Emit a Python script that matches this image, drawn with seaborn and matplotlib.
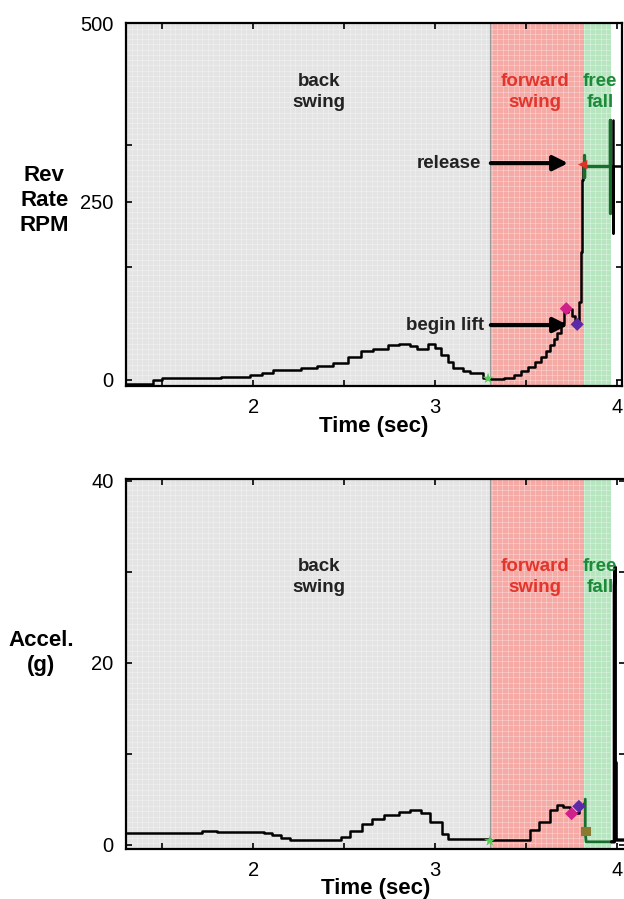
import numpy as np
import matplotlib
matplotlib.use('Agg')
import matplotlib.pyplot as plt
import seaborn as sns
import pandas as pd

# --- data ---
# bowling swing phases (start/end times, sec)
phase_names = ['back\nswing', 'forward\nswing', 'free\nfall']
phase_edges = [1.25, 3.30, 3.82, 3.965]
phase_colors = ['#e4e4e4', '#f6aaa6', '#b6e5c0']
phase_text_colors = ['#222222', '#e2352c', '#1c8a38']

# rev rate (RPM)
rev_time = [1.30, 1.45, 1.50, 1.65, 1.82, 1.98, 2.05, 2.11, 2.26, 2.35, 2.44, 2.52,
            2.59, 2.66, 2.74, 2.80, 2.86, 2.90, 2.96, 3.00, 3.03, 3.07, 3.10, 3.15,
            3.19, 3.26, 3.30, 3.38, 3.43, 3.47, 3.51, 3.55, 3.58, 3.61, 3.63, 3.65,
            3.67, 3.69, 3.71, 3.73, 3.75, 3.77, 3.79, 3.80, 3.805, 3.81]
rev_rpm = [-6, 0, 3, 3, 4, 7, 10, 14, 17, 19, 24, 32,
           40, 44, 49, 50, 48, 43, 50, 45, 35, 25, 17, 13,
           10, 3, 1, 3, 7, 12, 18, 25, 32, 40, 49, 58,
           66, 80, 95, 100, 90, 80, 110, 180, 280, 300]
rev_fall_time = [3.82, 3.82, 3.82, 3.96, 3.96, 3.96]
rev_fall_rpm = [315, 285, 300, 300, 364, 234]
rev_after_time = [3.975, 3.975, 3.975, 4.03]
rev_after_rpm = [364, 206, 300, 300]

# acceleration (g)
acc_time = [1.30, 1.50, 1.72, 1.80, 2.06, 2.10, 2.15, 2.20, 2.44, 2.48, 2.53, 2.60,
            2.65, 2.72, 2.80, 2.86, 2.92, 2.97, 3.04, 3.07, 3.30, 3.47, 3.52, 3.57,
            3.63, 3.67, 3.70, 3.74, 3.79, 3.82]
acc_g = [1.3, 1.3, 1.5, 1.4, 1.3, 1.0, 0.7, 0.5, 0.5, 0.8, 1.5, 2.3,
         2.8, 3.2, 3.6, 3.8, 3.5, 2.5, 1.2, 0.6, 0.5, 0.5, 1.6, 2.5,
         3.8, 4.4, 4.1, 3.5, 4.2, 4.6]
acc_fall_time = [3.825, 3.825, 3.83, 3.97]
acc_fall_g = [5.0, 1.3, 0.3, 0.3]
acc_after_time = [3.97, 3.985, 3.985, 3.99, 3.99, 3.995, 3.995, 4.0, 4.045]
acc_after_g = [0.3, 0.3, 28.5, 30.5, 9.0, 9.0, 0.5, 0.5, 0.5]

# event markers
rev_event_time = [3.29, 3.72, 3.78, 3.81]
rev_event_val = [2, 100, 78, 302]
acc_event_time = [3.30, 3.75, 3.79, 3.83]
acc_event_val = [0.4, 3.4, 4.2, 1.4]
event_colors = ['#55cc55', '#d0208a', '#5a2aa8', '#e0302a']
event_markers = ['*', 'D', 'D', '<']

sns.set_style('ticks')
plt.rcParams['font.family'] = ['Liberation Sans', 'DejaVu Sans']
plt.rcParams['text.color'] = 'black'
plt.rcParams['axes.labelcolor'] = 'black'
plt.rcParams['xtick.color'] = 'black'
plt.rcParams['ytick.color'] = 'black'

fig = plt.figure(figsize=(6.24, 8.99), dpi=100)
ax1 = fig.add_axes([0.202, 0.571, 0.795, 0.403])
ax2 = fig.add_axes([0.202, 0.056, 0.800, 0.411])


def draw_phases(ax, ylo, yhi, ytext):
    for i, name in enumerate(phase_names):
        ax.axvspan(phase_edges[i], phase_edges[i + 1], color=phase_colors[i], lw=0, zorder=0)
        xc = [2.36, 3.55, 3.905][i]
        ax.text(xc, ytext, name, ha='center', va='center', fontsize=13.5,
                fontweight='bold', color=phase_text_colors[i], linespacing=1.3, zorder=5)
    ax.axvline(phase_edges[1], color='#9a9a9a', lw=0.8, zorder=1)
    # faint fine grid texture of the original
    for gx in np.arange(1.3, phase_edges[-1], 0.03):
        ax.axvline(gx, color='white', lw=0.4, alpha=0.5, zorder=0.5)
    for gy in np.linspace(ylo, yhi, 70):
        ax.axhline(gy, color='white', lw=0.4, alpha=0.5, zorder=0.5,
                   xmax=(phase_edges[-1] - ax.get_xlim()[0]) / (ax.get_xlim()[1] - ax.get_xlim()[0]))


def style_axis(ax, yticks, yminor, ylabel):
    ax.set_xticks([2, 3, 4])
    ax.set_xticks([1.5, 2.5, 3.5], minor=True)
    ax.set_yticks(yticks)
    ax.set_yticks(yminor, minor=True)
    ax.tick_params(which='both', direction='in', top=True, right=True, length=4, width=1.2,
                   labelsize=14.5, pad=9, colors='black')
    ax.set_xlabel('Time (sec)', fontsize=16, fontweight='bold', color='black')
    ax.set_ylabel(ylabel, fontsize=16, fontweight='bold', rotation=0, ha='center',
                  va='center', linespacing=1.25, color='black')
    for s in ax.spines.values():
        s.set_color('black')
        s.set_linewidth(1.6)


# ---- top: rev rate ----
ax1.set_xlim(1.30, 4.027)
ax1.set_ylim(-8, 500)
draw_phases(ax1, -8, 500, 404)
sns.lineplot(x=rev_time, y=rev_rpm, ax=ax1, color='black', lw=1.8, drawstyle='steps-post',
             sort=False, estimator=None, zorder=3)
sns.lineplot(x=rev_fall_time, y=rev_fall_rpm, ax=ax1, color='#1a6e2c', lw=2.4,
             sort=False, estimator=None, zorder=3)
sns.lineplot(x=rev_after_time, y=rev_after_rpm, ax=ax1, color='black', lw=1.8,
             sort=False, estimator=None, zorder=3)
for t, v, c, m in zip(rev_event_time, rev_event_val, event_colors, event_markers):
    sns.scatterplot(x=[t], y=[v], ax=ax1, color=c, marker=m, s=70 if m == '*' else 45,
                    edgecolor='none', zorder=4)
ax1.annotate('', xy=(3.745, 304), xytext=(3.29, 304),
             arrowprops=dict(arrowstyle='-|>', lw=3, color='black', mutation_scale=22), zorder=6)
ax1.text(3.25, 304, 'release', ha='right', va='center', fontsize=13.5, fontweight='bold', color='#222222')
ax1.annotate('', xy=(3.745, 77), xytext=(3.29, 77),
             arrowprops=dict(arrowstyle='-|>', lw=3, color='black', mutation_scale=22), zorder=6)
ax1.text(3.27, 77, 'begin lift', ha='right', va='center', fontsize=13.5, fontweight='bold', color='#222222')
style_axis(ax1, [0, 250, 500], [158, 329], 'Rev\nRate\nRPM')
ax1.yaxis.set_label_coords(-0.165, 0.51)
ax1.xaxis.set_label_coords(0.5, -0.085)

# ---- bottom: acceleration ----
ax2.set_xlim(1.30, 4.045)
ax2.set_ylim(-0.45, 40.2)
draw_phases(ax2, -0.45, 40.2, 29.45)
sns.lineplot(x=acc_time, y=acc_g, ax=ax2, color='black', lw=1.8, drawstyle='steps-post',
             sort=False, estimator=None, zorder=3)
sns.lineplot(x=acc_fall_time, y=acc_fall_g, ax=ax2, color='#1a6e2c', lw=2.0,
             sort=False, estimator=None, zorder=3)
sns.lineplot(x=acc_after_time, y=acc_after_g, ax=ax2, color='black', lw=2.4,
             sort=False, estimator=None, zorder=3)
acc_colors = ['#55cc55', '#d0208a', '#5a2aa8', '#8a7a30']
acc_markers = ['*', 'D', 'D', 's']
for t, v, c, m in zip(acc_event_time, acc_event_val, acc_colors, acc_markers):
    sns.scatterplot(x=[t], y=[v], ax=ax2, color=c, marker=m, s=70 if m == '*' else 45,
                    edgecolor='none', zorder=4)
style_axis(ax2, [0, 20, 40], [10, 30], 'Accel.\n(g)')
ax2.yaxis.set_label_coords(-0.17, 0.53)
ax2.xaxis.set_label_coords(0.5, -0.08)

fig.savefig('out.png', dpi=100)
